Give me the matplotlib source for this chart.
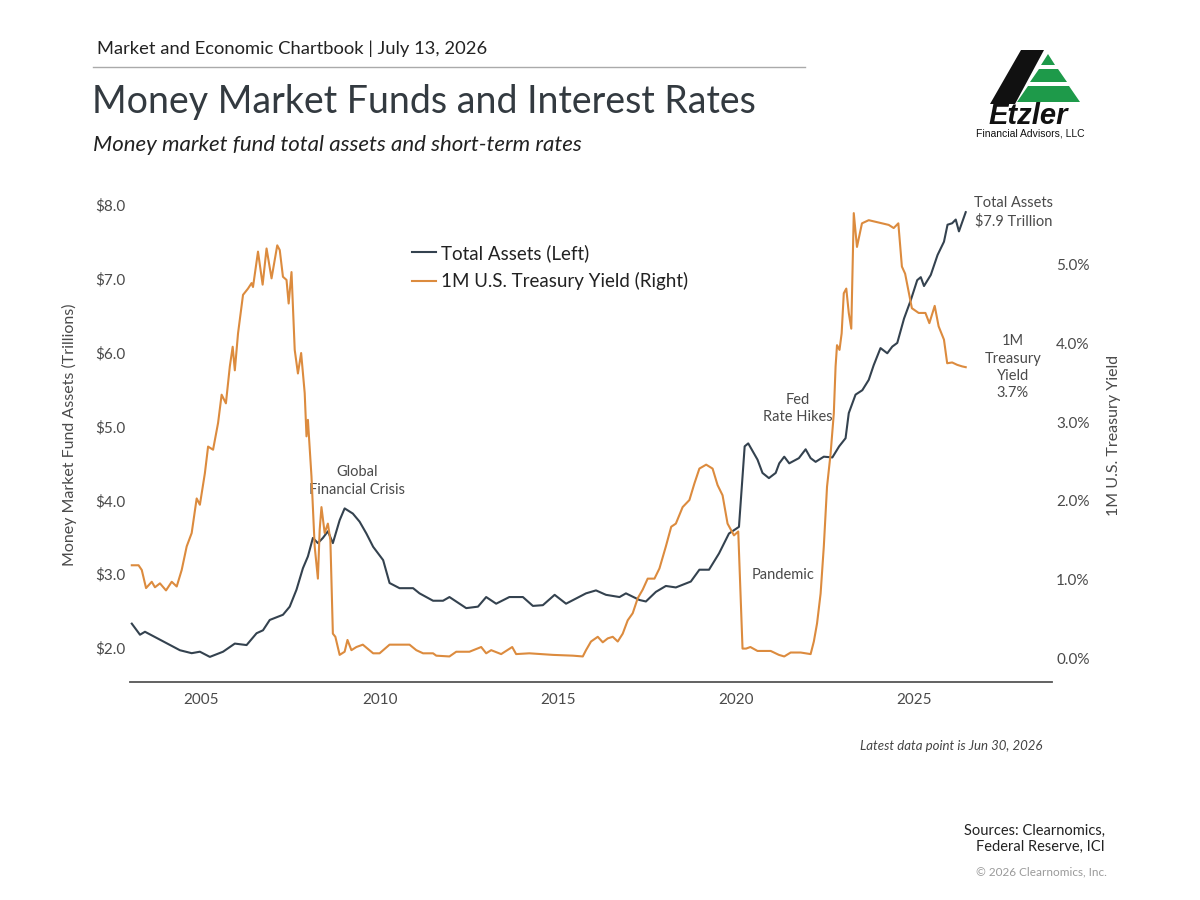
import matplotlib
matplotlib.use("Agg")
import matplotlib.pyplot as plt
from matplotlib.patches import Polygon
from matplotlib.lines import Line2D

plt.rcParams["font.family"] = ["Lato", "DejaVu Sans"]

# money market fund total assets, $ trillions (decimal year)
assets_t = [2003.05, 2003.28, 2003.42, 2003.93, 2004.40, 2004.73, 2004.96, 2005.24, 2005.61,
            2005.94, 2006.27, 2006.55, 2006.73, 2006.92, 2007.29, 2007.48, 2007.67, 2007.85,
            2007.99, 2008.13, 2008.27, 2008.41, 2008.55, 2008.69, 2008.88, 2009.02, 2009.25,
            2009.44, 2009.63, 2009.82, 2010.10, 2010.28, 2010.56, 2010.94, 2011.12, 2011.50,
            2011.78, 2011.96, 2012.43, 2012.76, 2012.99, 2013.27, 2013.64, 2014.02, 2014.30,
            2014.58, 2014.91, 2015.23, 2015.51, 2015.79, 2016.07, 2016.35, 2016.73, 2016.91,
            2017.29, 2017.47, 2017.75, 2018.03, 2018.31, 2018.73, 2018.97, 2019.24, 2019.52,
            2019.80, 2020.08, 2020.24, 2020.34, 2020.60, 2020.74, 2020.92, 2021.11, 2021.21,
            2021.35, 2021.49, 2021.76, 2021.95, 2022.09, 2022.23, 2022.46, 2022.70, 2022.89,
            2023.07, 2023.16, 2023.35, 2023.54, 2023.72, 2023.86, 2024.05, 2024.24, 2024.38,
            2024.52, 2024.71, 2024.90, 2025.08, 2025.18, 2025.27, 2025.46, 2025.65, 2025.83,
            2025.93, 2026.06, 2026.16, 2026.25, 2026.44]
assets_v = [2.33, 2.18, 2.22, 2.09, 1.97, 1.93, 1.95, 1.88, 1.95,
            2.06, 2.04, 2.20, 2.24, 2.38, 2.45, 2.56, 2.79, 3.08,
            3.24, 3.49, 3.42, 3.49, 3.58, 3.42, 3.73, 3.89, 3.82,
            3.71, 3.55, 3.37, 3.19, 2.88, 2.81, 2.81, 2.74, 2.64,
            2.64, 2.69, 2.54, 2.56, 2.69, 2.60, 2.69, 2.69, 2.57,
            2.58, 2.72, 2.60, 2.67, 2.74, 2.78, 2.72, 2.69, 2.74,
            2.65, 2.63, 2.76, 2.84, 2.82, 2.90, 3.06, 3.06, 3.28,
            3.55, 3.64, 4.73, 4.77, 4.55, 4.37, 4.30, 4.37, 4.50,
            4.59, 4.50, 4.57, 4.69, 4.57, 4.52, 4.59, 4.58, 4.73,
            4.84, 5.18, 5.43, 5.49, 5.63, 5.83, 6.06, 5.99, 6.08,
            6.13, 6.46, 6.71, 6.98, 7.02, 6.90, 7.05, 7.32, 7.50,
            7.73, 7.75, 7.80, 7.64, 7.90]

# 1M U.S. Treasury yield, %
yield_t = [2003.05, 2003.24, 2003.33, 2003.45, 2003.61, 2003.70, 2003.84, 2004.01, 2004.17,
           2004.31, 2004.45, 2004.59, 2004.73, 2004.87, 2004.96, 2005.10, 2005.19, 2005.33,
           2005.47, 2005.57, 2005.69, 2005.80, 2005.88, 2005.94, 2006.03, 2006.17, 2006.31,
           2006.41, 2006.45, 2006.59, 2006.72, 2006.83, 2006.97, 2007.13, 2007.20, 2007.29,
           2007.39, 2007.45, 2007.53, 2007.62, 2007.71, 2007.80, 2007.90, 2007.95, 2007.99,
           2008.09, 2008.18, 2008.27, 2008.32, 2008.37, 2008.46, 2008.55, 2008.62, 2008.69,
           2008.76, 2008.88, 2009.02, 2009.10, 2009.21, 2009.35, 2009.53, 2009.82, 2010.00,
           2010.28, 2010.56, 2010.84, 2011.03, 2011.22, 2011.50, 2011.59, 2011.96, 2012.15,
           2012.52, 2012.85, 2012.99, 2013.13, 2013.41, 2013.72, 2013.83, 2014.20, 2014.86,
           2015.42, 2015.70, 2015.79, 2015.93, 2016.12, 2016.26, 2016.40, 2016.54, 2016.68,
           2016.82, 2016.96, 2017.10, 2017.24, 2017.38, 2017.52, 2017.71, 2017.85, 2018.03,
           2018.18, 2018.31, 2018.50, 2018.69, 2018.83, 2018.97, 2019.16, 2019.34, 2019.48,
           2019.62, 2019.76, 2019.94, 2020.06, 2020.18, 2020.28, 2020.40, 2020.60, 2020.97,
           2021.20, 2021.35, 2021.53, 2021.81, 2022.09, 2022.18, 2022.27, 2022.37, 2022.46,
           2022.55, 2022.65, 2022.74, 2022.79, 2022.83, 2022.90, 2022.96, 2023.02, 2023.09,
           2023.16, 2023.23, 2023.30, 2023.39, 2023.53, 2023.72, 2024.00, 2024.28, 2024.42,
           2024.55, 2024.65, 2024.74, 2024.93, 2025.12, 2025.31, 2025.42, 2025.57, 2025.68,
           2025.83, 2025.92, 2026.06, 2026.20, 2026.34, 2026.44]
yield_v = [1.18, 1.18, 1.12, 0.89, 0.97, 0.90, 0.95, 0.86, 0.97,
           0.91, 1.12, 1.42, 1.59, 2.03, 1.95, 2.35, 2.69, 2.65,
           2.99, 3.35, 3.24, 3.71, 3.96, 3.66, 4.13, 4.62, 4.70,
           4.77, 4.72, 5.17, 4.75, 5.21, 4.83, 5.25, 5.19, 4.85,
           4.81, 4.51, 4.91, 3.92, 3.62, 3.88, 3.37, 2.82, 3.03,
           2.31, 1.42, 1.01, 1.63, 1.92, 1.59, 1.71, 1.50, 0.31,
           0.27, 0.04, 0.08, 0.23, 0.10, 0.14, 0.17, 0.06, 0.06,
           0.17, 0.17, 0.17, 0.10, 0.06, 0.06, 0.03, 0.02, 0.08,
           0.08, 0.14, 0.06, 0.10, 0.05, 0.14, 0.05, 0.06, 0.04,
           0.03, 0.02, 0.10, 0.21, 0.27, 0.20, 0.25, 0.27, 0.21,
           0.31, 0.48, 0.57, 0.76, 0.87, 1.01, 1.01, 1.14, 1.42,
           1.67, 1.71, 1.92, 2.01, 2.22, 2.41, 2.46, 2.41, 2.20,
           2.07, 1.71, 1.56, 1.61, 0.12, 0.12, 0.14, 0.09, 0.09,
           0.04, 0.02, 0.07, 0.07, 0.05, 0.21, 0.44, 0.82, 1.42,
           2.18, 2.60, 3.11, 3.71, 3.98, 3.92, 4.13, 4.64, 4.70,
           4.39, 4.19, 5.66, 5.23, 5.53, 5.57, 5.54, 5.51, 5.47,
           5.53, 4.98, 4.89, 4.45, 4.39, 4.39, 4.26, 4.48, 4.22,
           4.05, 3.75, 3.76, 3.73, 3.71, 3.70]

year_ticks = [2005, 2010, 2015, 2020, 2025]
asset_ticks = [2, 3, 4, 5, 6, 7, 8]
yield_ticks = [0, 1, 2, 3, 4, 5]

navy = "#34424f"
orange = "#dc8b3e"
txt = "#4a4a4a"

W, H = 1200, 900
fig = plt.figure(figsize=(12, 9), dpi=100)


def fx(x):
    return x / W


def fy(y):
    return 1 - y / H


ax = fig.add_axes([fx(130), fy(682), fx(1052) - fx(130), fy(190) - fy(682)])
ax2 = ax.twinx()

ax.plot(assets_t, assets_v, color=navy, lw=1.5, zorder=3)
ax2.plot(yield_t, yield_v, color=orange, lw=1.5, zorder=2)

ax.set_xlim(2003.0, 2028.86)
ax.set_ylim(1.54, 8.20)
ax2.set_ylim(-0.305, 5.954)

ax.set_xticks(year_ticks)
ax.set_yticks(asset_ticks)
ax.set_yticklabels(["$%.1f" % v for v in asset_ticks])
ax2.set_yticks(yield_ticks)
ax2.set_yticklabels(["%.1f%%" % v for v in yield_ticks])

for a in (ax, ax2):
    for s in a.spines.values():
        s.set_visible(False)
    a.tick_params(length=0, labelsize=11, labelcolor=txt)
ax.spines["bottom"].set_visible(True)
ax.spines["bottom"].set_color("#555555")
ax.spines["bottom"].set_linewidth(1.3)
ax.tick_params(axis="x", pad=8)
ax.tick_params(axis="y", pad=3)
ax2.tick_params(axis="y", pad=3)

ax.set_ylabel("Money Market Fund Assets (Trillions)", fontsize=11.5, color=txt)
ax.yaxis.set_label_coords(-0.0575, 0.502)
ax2.set_ylabel("1M U.S. Treasury Yield", fontsize=11.5, color=txt)
ax2.yaxis.set_label_coords(1.0597, 0.502)

handles = [Line2D([], [], color=navy, lw=1.5), Line2D([], [], color=orange, lw=1.5)]
ax.legend(handles, ["Total Assets (Left)", "1M U.S. Treasury Yield (Right)"],
          loc="upper left", bbox_to_anchor=(fx(412), fy(244)), bbox_transform=fig.transFigure,
          frameon=False, fontsize=13.5, labelcolor="#222222", handlelength=1.3,
          handletextpad=0.25, borderpad=0, borderaxespad=0, labelspacing=0.55)

note = dict(ha="center", va="center", fontsize=10.5, color=txt, linespacing=1.3)
ax.text(2009.36, 4.26, "Global\nFinancial Crisis", **note)
ax.text(2021.74, 5.24, "Fed\nRate Hikes", **note)
ax.text(2021.32, 2.99, "Pandemic", **note)
ax.text(2027.79, 7.90, "Total Assets\n$7.9 Trillion", clip_on=False, **note)
ax.text(2027.76, 5.80, "1M\nTreasury\nYield\n3.7%", clip_on=False, **note)

# header
fig.text(fx(97), fy(49), "Market and Economic Chartbook | July 13, 2026", fontsize=13.2,
         color="#222222", va="center")
fig.add_artist(Line2D([fx(93), fx(805)], [fy(67), fy(67)], color="#aaaaaa", lw=1))
fig.text(fx(92), fy(102), "Money Market Funds and Interest Rates", fontsize=27,
         color="#333a40", va="center")
fig.text(fx(93), fy(145), "Money market fund total assets and short-term rates", fontsize=16,
         style="italic", color="#222222", va="center")

# footer
fig.text(fx(1042), fy(746), "Latest data point is Jun 30, 2026", fontsize=9.5, style="italic",
         color="#444444", ha="right", va="center")
fig.text(fx(1105), fy(839), "Sources: Clearnomics,\nFederal Reserve, ICI", fontsize=10.5,
         color="#222222", ha="right", va="center", linespacing=1.15)
fig.text(fx(1107), fy(872), "\u00a9 2026 Clearnomics, Inc.", fontsize=8.5, color="#9a9a9a",
         ha="right", va="center")

# logo
def poly(pts, color):
    fig.patches.append(Polygon([(fx(x), fy(y)) for x, y in pts], closed=True,
                               transform=fig.transFigure, facecolor=color, edgecolor="none"))


poly([(1021, 50), (1044, 50), (1015, 104), (990, 104)], "#111111")
green = "#1e9a4a"
poly([(1048, 54), (1055, 65), (1041, 65)], green)
poly([(1039, 69), (1058, 69), (1067, 82), (1030, 82)], green)
poly([(1028, 86), (1069, 86), (1080, 102), (1017, 102)], green)
fig.text(fx(1028), fy(124), "Etzler", fontsize=21, fontweight="heavy", style="italic",
         color="#111111", ha="center", va="baseline", family=["Liberation Sans", "DejaVu Sans"])
fig.text(fx(1030), fy(134), "Financial Advisors, LLC", fontsize=7.5, color="#111111",
         ha="center", va="center", family=["Liberation Sans", "DejaVu Sans"])

fig.savefig("out.png", dpi=100)
